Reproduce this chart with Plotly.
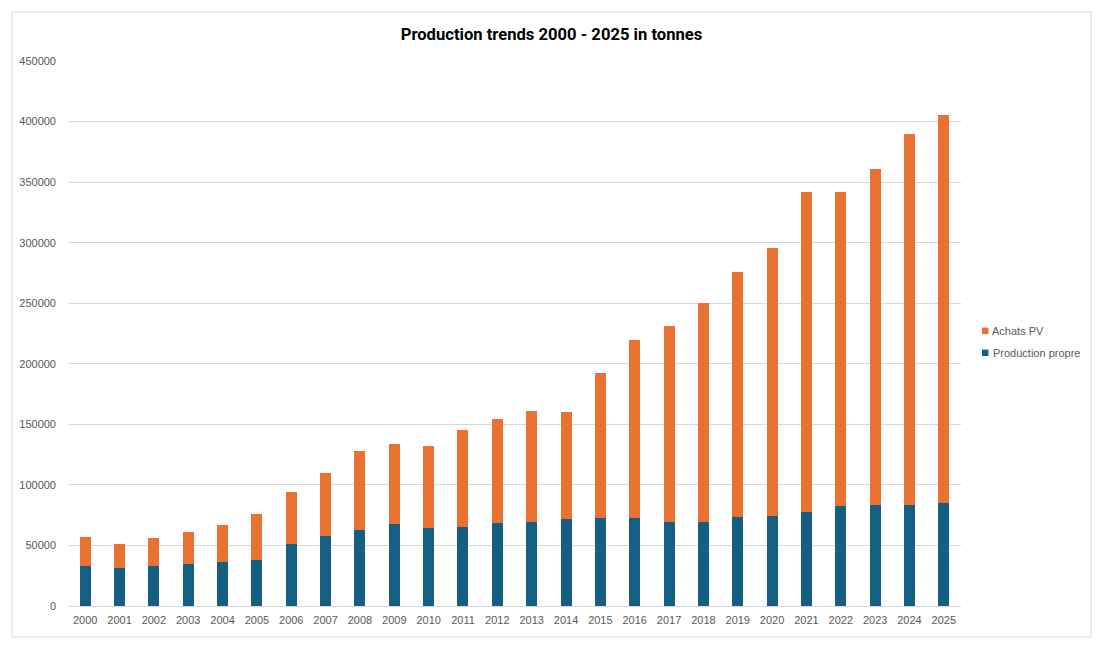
import plotly.graph_objects as go

years = [str(y) for y in range(2000, 2026)]
production_propre = [33000, 31200, 33000, 34500, 36200, 37800, 51000, 57700, 62700, 67600,
                     64300, 65100, 68700, 69500, 72000, 72800, 72800, 69500, 69500, 73700,
                     74500, 77800, 82800, 83600, 83600, 85300]
achats_pv = [24000, 19900, 23000, 26500, 30600, 38100, 43100, 52100, 65300, 66300,
             67900, 80300, 86100, 91900, 88600, 119200, 146600, 161500, 180500, 201800,
             221000, 263700, 259200, 277400, 305900, 320200]
y_ticks = [0, 50000, 100000, 150000, 200000, 250000, 300000, 350000, 400000, 450000]
legend_names = ["Achats PV", "Production propre"]

BLUE = "#156082"
ORANGE = "#E97132"
FONT = "Liberation Sans"

# page body has an 8px margin; work in reference pixel coords and shift
OFF = 8
W, H = 1105 - 2 * OFF, 646 - 2 * OFF
L, R, T, B = 68 - OFF, 961 - OFF, 61 - OFF, 606 - OFF
pw, ph = R - L, B - T

def px_x(x):
    return (x - OFF - L) / pw

def px_y(y):
    return (B - (y - OFF)) / ph

fig = go.Figure()
fig.add_trace(go.Bar(x=years, y=production_propre, name=legend_names[1], showlegend=False,
                     marker=dict(color=BLUE, line=dict(width=0))))
fig.add_trace(go.Bar(x=years, y=achats_pv, name=legend_names[0], showlegend=False,
                     marker=dict(color=ORANGE, line=dict(width=0))))

# legend drawn as squares + text
shapes = [dict(type="rect", xref="paper", yref="paper",
               x0=px_x(12), x1=px_x(1091), y0=px_y(637), y1=px_y(12),
               line=dict(color="#D9D9D9", width=1), fillcolor="rgba(0,0,0,0)",
               layer="below")]
annotations = []
for name, color, yc in [(legend_names[0], ORANGE, 330.8), (legend_names[1], BLUE, 352.8)]:
    shapes.append(dict(type="rect", xref="paper", yref="paper",
                       x0=px_x(982), x1=px_x(988.5), y0=px_y(yc + 3.2), y1=px_y(yc - 3.2),
                       line=dict(width=0), fillcolor=color))
    annotations.append(dict(text=name, xref="paper", yref="paper", x=px_x(990.5), y=px_y(yc),
                            xanchor="left", yanchor="middle", showarrow=False,
                            font=dict(family=FONT, size=11, color="#595959")))

fig.update_layout(
    width=W, height=H,
    margin=dict(l=L, r=W - R, t=T, b=H - B, autoexpand=False),
    paper_bgcolor="white", plot_bgcolor="white",
    barmode="stack", bargap=0.68, showlegend=False,
    font=dict(family=FONT, size=11, color="#595959"),
    title=dict(text="<b>Production trends 2000 - 2025 in tonnes</b>",
               x=(551.5 - OFF) / W, xref="container", xanchor="center",
               y=1 - (34 - OFF) / H, yref="container", yanchor="middle",
               font=dict(family="Roboto", size=16.6, color="#000000")),
    xaxis=dict(type="category", showgrid=False, showline=True, linecolor="#D9D9D9",
               linewidth=1, ticks="", tickfont=dict(size=11, color="#595959"),
               ticklabelstandoff=4),
    yaxis=dict(range=[0, 450000], tickvals=y_ticks, ticktext=[str(v) for v in y_ticks],
               showgrid=True, gridcolor="#D9D9D9", gridwidth=1, zeroline=False,
               showline=False, ticks="", tickfont=dict(size=11, color="#595959"),
               ticklabelstandoff=11),
    shapes=shapes,
    annotations=annotations,
)

fig.write_html("out.html")
